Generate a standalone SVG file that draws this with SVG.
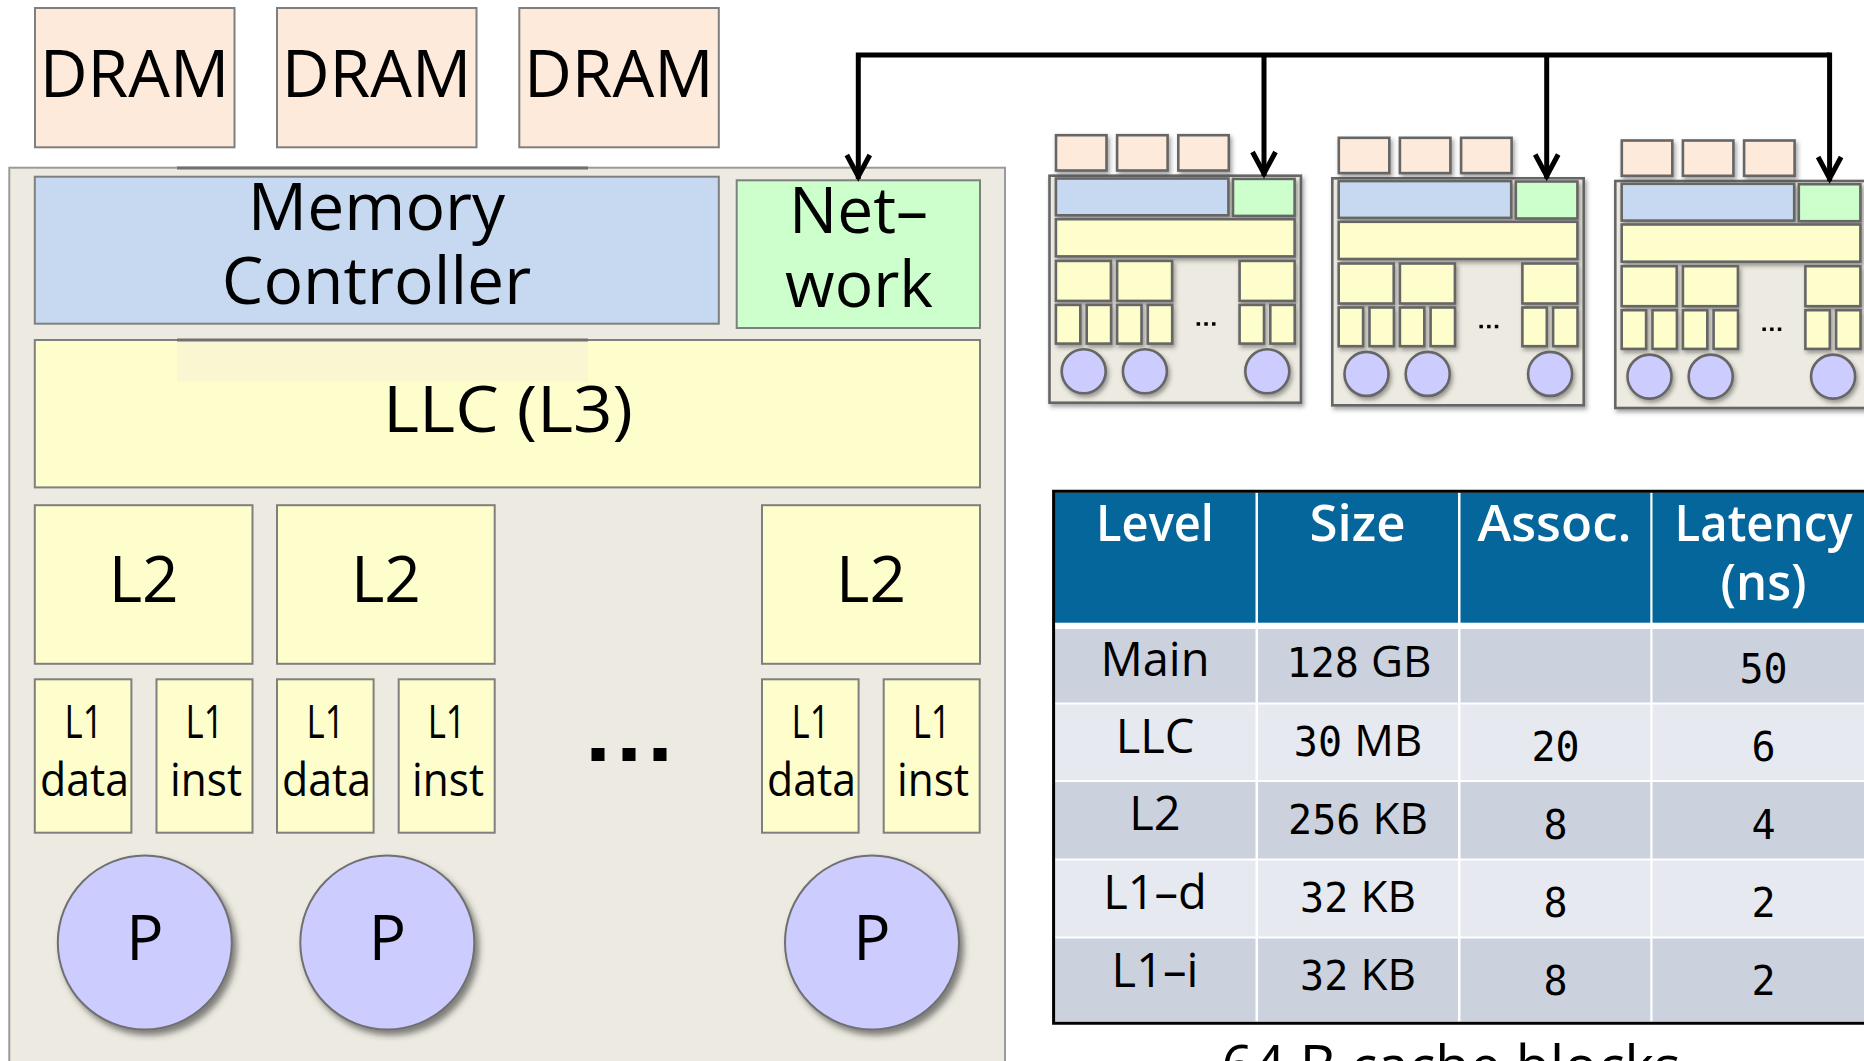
<svg xmlns="http://www.w3.org/2000/svg" width="1864" height="1061" viewBox="0 0 1864 1061">
  <defs>
    <style>
      .chip{fill:#EDEBE1;stroke:#9A9A9A;stroke-width:2}
      .dram{fill:#FDEADA;stroke:#7F7F7F;stroke-width:2}
      .mc{fill:#C6D9F0;stroke:#7F7F7F;stroke-width:2}
      .net{fill:#CCFFCC;stroke:#7F7F7F;stroke-width:2}
      .cache{fill:#FEFDCC;stroke:#7F7F7F;stroke-width:2}
      .proc{fill:#CCCCFF;stroke:#6F6F6F;stroke-width:2;filter:url(#shadow)}
      .mini rect,.mini circle{stroke:#666;stroke-width:2.6;filter:url(#soft)}
      .mini .dot{fill:#000;stroke:none;filter:none}
      .dot{fill:#000}
      .lbl{font-family:'Open Sans','Noto Sans',sans-serif;fill:#000;text-anchor:middle}
      .big{font-size:66px}
      .mid{font-size:64px}
      .small{font-size:46px}
      .wire{fill:none;stroke:#000;stroke-width:5;stroke-linejoin:miter}
      .hdr{fill:#04669A}
      .rowA{fill:#CBD2DE}
      .rowB{fill:#E6E9EF}
      .th{font-family:'Open Sans','Noto Sans',sans-serif;font-weight:600;font-size:50px;fill:#fff;text-anchor:middle}
      .td{font-family:'Open Sans','Noto Sans',sans-serif;font-size:47px;fill:#000;text-anchor:middle}
      .num{font-family:'DejaVu Sans Mono','Liberation Mono',monospace;font-size:40px}
      .unit{font-family:'Open Sans','Noto Sans',sans-serif;font-size:44px}
    </style>
    <filter id="shadow" x="-20%" y="-20%" width="150%" height="150%">
      <feDropShadow dx="4" dy="5" stdDeviation="3" flood-color="#333" flood-opacity="0.6"/>
    </filter>
    <filter id="soft" x="-30%" y="-30%" width="170%" height="170%">
      <feDropShadow dx="2" dy="3" stdDeviation="2" flood-color="#333" flood-opacity="0.45"/>
    </filter>
    <marker id="chevron" markerUnits="userSpaceOnUse" viewBox="-30 -16 34 32" markerWidth="34" markerHeight="32" refX="0" refY="0" orient="auto">
      <path d="M-24,-11.5 L-2.5,0 L-24,11.5" fill="none" stroke="#000" stroke-width="5"/>
    </marker>
    <!-- thumbnail of one chip, without labels -->
    <g id="chip-mini" class="mini">
      <rect class="chip" x="0" y="0" width="251.4" height="227"/>
      <rect class="dram" x="6.5" y="-40.5" width="50.5" height="35.3"/>
      <rect class="dram" x="67.6" y="-40.5" width="50.5" height="35.3"/>
      <rect class="dram" x="128.8" y="-40.5" width="50.5" height="35.3"/>
      <rect class="mc" x="6.4" y="2.8" width="172.5" height="36.8"/>
      <rect class="net" x="183.5" y="3.2" width="61.6" height="37"/>
      <rect class="cache" x="6.4" y="43.5" width="238.7" height="37.2"/>
      <rect class="cache" x="6.4" y="85.2" width="55" height="40"/>
      <rect class="cache" x="67.6" y="85.2" width="55" height="40"/>
      <rect class="cache" x="190.1" y="85.2" width="55" height="40"/>
      <rect class="cache" x="6.4" y="129.2" width="24.4" height="38.7"/>
      <rect class="cache" x="37.2" y="129.2" width="24.4" height="38.7"/>
      <rect class="cache" x="67.6" y="129.2" width="24.4" height="38.7"/>
      <rect class="cache" x="98.3" y="129.2" width="24.4" height="38.7"/>
      <rect class="cache" x="190.1" y="129.2" width="24.4" height="38.7"/>
      <rect class="cache" x="220.8" y="129.2" width="24.4" height="38.7"/>
      <rect class="dot" x="147.1" y="146.5" width="3.5" height="3.5"/>
      <rect class="dot" x="154.8" y="146.5" width="3.5" height="3.5"/>
      <rect class="dot" x="162.5" y="146.5" width="3.5" height="3.5"/>
      <circle class="proc" cx="34.2" cy="195.6" r="22"/>
      <circle class="proc" cx="95.4" cy="195.6" r="22"/>
      <circle class="proc" cx="217.8" cy="195.6" r="22"/>
    </g>
  </defs>

  <rect width="1864" height="1061" fill="#fff"/>

  <!-- main chip -->
  <g id="chip">
    <rect class="chip" x="9.3" y="167.7" width="995.7" height="910"/>
    <line x1="177" y1="168" x2="588" y2="168" stroke="#707070" stroke-width="3"/>
  </g>

  <g id="dram-0">
    <rect class="dram" x="35" y="8" width="199.5" height="139.3"/>
    <text class="lbl big" x="134.5" y="96.7">DRAM</text>
  </g>
  <g id="dram-1">
    <rect class="dram" x="277" y="8" width="199.5" height="139.3"/>
    <text class="lbl big" x="376.5" y="96.7">DRAM</text>
  </g>
  <g id="dram-2">
    <rect class="dram" x="519.3" y="8" width="199.5" height="139.3"/>
    <text class="lbl big" x="618.8" y="96.7">DRAM</text>
  </g>

  <g id="memory-controller">
    <rect class="mc" x="34.8" y="176.7" width="684" height="147"/>
    <text class="lbl big" x="376.5" y="230">Memory</text>
    <text class="lbl big" x="376.5" y="304">Controller</text>
  </g>

  <g id="network">
    <rect class="net" x="736.7" y="180.3" width="243.3" height="147.7"/>
    <text class="lbl mid" x="858.5" y="233.3">Net–</text>
    <text class="lbl mid" x="859" y="306.7">work</text>
  </g>

  <g id="llc">
    <rect class="cache" x="34.8" y="340" width="945.2" height="147.4"/>
    <rect x="177" y="341.5" width="411" height="40" fill="#F6F2D6" opacity="0.6"/>
    <line x1="177" y1="340" x2="588" y2="340" stroke="#707070" stroke-width="3"/>
    <text class="lbl mid" x="508" y="431.7" textLength="250" lengthAdjust="spacingAndGlyphs">LLC (L3)</text>
  </g>

  <g id="l2-0">
    <rect class="cache" x="34.8" y="505.2" width="217.7" height="158.6"/>
    <text class="lbl mid" x="143.7" y="602.3">L2</text>
  </g>
  <g id="l2-1">
    <rect class="cache" x="277" y="505.2" width="217.7" height="158.6"/>
    <text class="lbl mid" x="385.9" y="602.3">L2</text>
  </g>
  <g id="l2-n">
    <rect class="cache" x="762" y="505.2" width="218" height="158.6"/>
    <text class="lbl mid" x="871" y="602.3">L2</text>
  </g>

  <g id="l1d-0">
    <rect class="cache" x="34.8" y="679.3" width="96.6" height="153.4"/>
    <text class="lbl small" x="83.6" y="737.5" textLength="38" lengthAdjust="spacingAndGlyphs">L1</text>
    <text class="lbl small" x="84.5" y="795.7" textLength="89" lengthAdjust="spacingAndGlyphs">data</text>
  </g>
  <g id="l1i-0">
    <rect class="cache" x="156.5" y="679.3" width="96" height="153.4"/>
    <text class="lbl small" x="204.5" y="737.5" textLength="38" lengthAdjust="spacingAndGlyphs">L1</text>
    <text class="lbl small" x="206" y="795.7" textLength="72" lengthAdjust="spacingAndGlyphs">inst</text>
  </g>
  <g id="l1d-1">
    <rect class="cache" x="277" y="679.3" width="96.6" height="153.4"/>
    <text class="lbl small" x="325.5" y="737.5" textLength="38" lengthAdjust="spacingAndGlyphs">L1</text>
    <text class="lbl small" x="326.5" y="795.7" textLength="89" lengthAdjust="spacingAndGlyphs">data</text>
  </g>
  <g id="l1i-1">
    <rect class="cache" x="398.7" y="679.3" width="96" height="153.4"/>
    <text class="lbl small" x="446.7" y="737.5" textLength="38" lengthAdjust="spacingAndGlyphs">L1</text>
    <text class="lbl small" x="448" y="795.7" textLength="72" lengthAdjust="spacingAndGlyphs">inst</text>
  </g>
  <g id="l1d-n">
    <rect class="cache" x="762" y="679.3" width="96.6" height="153.4"/>
    <text class="lbl small" x="810.5" y="737.5" textLength="38" lengthAdjust="spacingAndGlyphs">L1</text>
    <text class="lbl small" x="811.5" y="795.7" textLength="89" lengthAdjust="spacingAndGlyphs">data</text>
  </g>
  <g id="l1i-n">
    <rect class="cache" x="883.7" y="679.3" width="96" height="153.4"/>
    <text class="lbl small" x="931.7" y="737.5" textLength="38" lengthAdjust="spacingAndGlyphs">L1</text>
    <text class="lbl small" x="933" y="795.7" textLength="72" lengthAdjust="spacingAndGlyphs">inst</text>
  </g>

  <g id="ellipsis">
    <rect class="dot" x="591.5" y="748" width="13" height="13"/>
    <rect class="dot" x="622.5" y="748" width="13" height="13"/>
    <rect class="dot" x="653.5" y="748" width="13" height="13"/>
  </g>

  <g id="proc-0">
    <circle class="proc" cx="144.8" cy="942.5" r="87"/>
    <text class="lbl" font-size="62" x="145" y="960">P</text>
  </g>
  <g id="proc-1">
    <circle class="proc" cx="387.3" cy="942.5" r="87"/>
    <text class="lbl" font-size="62" x="387.5" y="960">P</text>
  </g>
  <g id="proc-n">
    <circle class="proc" cx="872" cy="942.5" r="87"/>
    <text class="lbl" font-size="62" x="872" y="960">P</text>
  </g>

  <!-- neighbouring chips -->
  <g id="chip-a"><use href="#chip-mini" transform="translate(1049.5,175.7)"/></g>
  <g id="chip-b"><use href="#chip-mini" transform="translate(1332.3,178.3)"/></g>
  <g id="chip-c"><use href="#chip-mini" transform="translate(1615.3,181)"/></g>

  <!-- interconnect -->
  <g id="connectors">
    <path class="wire" d="M1829.6,55 H858.3 V179" marker-end="url(#chevron)"/>
    <path class="wire" d="M1264,55 V176" marker-end="url(#chevron)"/>
    <path class="wire" d="M1546.7,55 V178.5" marker-end="url(#chevron)"/>
    <path class="wire" d="M1829.6,52.5 V181" marker-end="url(#chevron)"/>
  </g>

  <!-- cache parameters table -->
  <g id="cache-table">
    <rect x="1053.5" y="491" width="820" height="532" fill="#fff"/>
    <g id="table-header">
      <rect class="hdr" x="1055" y="492.5" width="200.5" height="130.2"/>
      <rect class="hdr" x="1258" y="492.5" width="200" height="130.2"/>
      <rect class="hdr" x="1460.5" y="492.5" width="189.8" height="130.2"/>
      <rect class="hdr" x="1652.5" y="492.5" width="220" height="130.2"/>
      <text class="th" x="1155" y="541" textLength="118" lengthAdjust="spacingAndGlyphs">Level</text>
      <text class="th" x="1357.5" y="541" textLength="96" lengthAdjust="spacingAndGlyphs">Size</text>
      <text class="th" x="1554.5" y="541" textLength="154" lengthAdjust="spacingAndGlyphs">Assoc.</text>
      <text class="th" x="1763.5" y="541" textLength="178" lengthAdjust="spacingAndGlyphs">Latency</text>
      <text class="th" x="1763.5" y="600" textLength="86" lengthAdjust="spacingAndGlyphs">(ns)</text>
    </g>
    <g id="row-main">
      <rect class="rowA" x="1055" y="629" width="200.5" height="73.5"/>
      <rect class="rowA" x="1258" y="629" width="200" height="73.5"/>
      <rect class="rowA" x="1460.5" y="629" width="189.8" height="73.5"/>
      <rect class="rowA" x="1652.5" y="629" width="220" height="73.5"/>
      <text class="td" x="1155" y="675.6">Main</text>
      <text class="td" x="1359" y="677"><tspan class="num">128</tspan> <tspan class="unit">GB</tspan></text>
      <text class="td num" x="1763.5" y="683">50</text>
    </g>
    <g id="row-llc">
      <rect class="rowB" x="1055" y="704.5" width="200.5" height="75.5"/>
      <rect class="rowB" x="1258" y="704.5" width="200" height="75.5"/>
      <rect class="rowB" x="1460.5" y="704.5" width="189.8" height="75.5"/>
      <rect class="rowB" x="1652.5" y="704.5" width="220" height="75.5"/>
      <text class="td" x="1155" y="753.4">LLC</text>
      <text class="td" x="1358" y="756"><tspan class="num">30</tspan> <tspan class="unit">MB</tspan></text>
      <text class="td num" x="1555.5" y="760.5">20</text>
      <text class="td num" x="1763.5" y="760.5">6</text>
    </g>
    <g id="row-l2">
      <rect class="rowA" x="1055" y="782" width="200.5" height="76.5"/>
      <rect class="rowA" x="1258" y="782" width="200" height="76.5"/>
      <rect class="rowA" x="1460.5" y="782" width="189.8" height="76.5"/>
      <rect class="rowA" x="1652.5" y="782" width="220" height="76.5"/>
      <text class="td" x="1155" y="830">L2</text>
      <text class="td" x="1358" y="834"><tspan class="num">256</tspan> <tspan class="unit">KB</tspan></text>
      <text class="td num" x="1555.5" y="838.6">8</text>
      <text class="td num" x="1763.5" y="838.6">4</text>
    </g>
    <g id="row-l1d">
      <rect class="rowB" x="1055" y="860.5" width="200.5" height="76"/>
      <rect class="rowB" x="1258" y="860.5" width="200" height="76"/>
      <rect class="rowB" x="1460.5" y="860.5" width="189.8" height="76"/>
      <rect class="rowB" x="1652.5" y="860.5" width="220" height="76"/>
      <text class="td" x="1155" y="908.7">L1–d</text>
      <text class="td" x="1358" y="911.6"><tspan class="num">32</tspan> <tspan class="unit">KB</tspan></text>
      <text class="td num" x="1555.5" y="916.5">8</text>
      <text class="td num" x="1763.5" y="916.5">2</text>
    </g>
    <g id="row-l1i">
      <rect class="rowA" x="1055" y="938.5" width="200.5" height="83"/>
      <rect class="rowA" x="1258" y="938.5" width="200" height="83"/>
      <rect class="rowA" x="1460.5" y="938.5" width="189.8" height="83"/>
      <rect class="rowA" x="1652.5" y="938.5" width="220" height="83"/>
      <text class="td" x="1155" y="986.5">L1–i</text>
      <text class="td" x="1358" y="990"><tspan class="num">32</tspan> <tspan class="unit">KB</tspan></text>
      <text class="td num" x="1555.5" y="995">8</text>
      <text class="td num" x="1763.5" y="995">2</text>
    </g>
    <path d="M1880,491.3 H1053.6 V1023.3 H1880" fill="none" stroke="#000" stroke-width="3"/>
  </g>

  <text id="block-note" class="lbl" font-size="56" x="1451" y="1086">64 B cache blocks</text>
</svg>
